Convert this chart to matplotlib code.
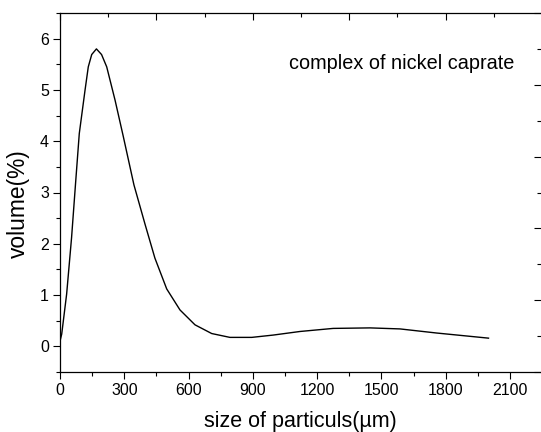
import matplotlib
matplotlib.use('Agg')
import matplotlib.pyplot as plt
from matplotlib.ticker import MultipleLocator

# particle size distribution
size_um = [0, 8, 31, 54, 73, 90, 117, 132, 148, 170, 194, 218, 257, 295, 345, 397, 443,
           498, 560, 630, 708, 793, 895, 995, 1120, 1275, 1447, 1587, 1758, 2000]
volume_pct = [0.1, 0.24, 1.02, 2.12, 3.2, 4.15, 5.0, 5.45, 5.69, 5.8, 5.69, 5.45, 4.8,
              4.1, 3.15, 2.38, 1.72, 1.12, 0.71, 0.42, 0.25, 0.175, 0.175, 0.22, 0.29,
              0.35, 0.36, 0.34, 0.26, 0.16]
label_text = "complex of nickel caprate"

plt.rcParams['font.family'] = ['Liberation Sans', 'DejaVu Sans']

fig = plt.figure(figsize=(5.41, 4.32), dpi=100)
ax = fig.add_axes([60/541, 60/432, 481/541, 359/432])

ax.plot(size_um, volume_pct, color='black', lw=1.0)

ax.set_xlim(0, 2245)
ax.set_ylim(-0.5, 6.5)

ax.xaxis.set_major_locator(MultipleLocator(300))
ax.xaxis.set_minor_locator(MultipleLocator(150))
ax.yaxis.set_major_locator(MultipleLocator(1))
ax.yaxis.set_minor_locator(MultipleLocator(0.5))
ax.tick_params(which='both', direction='out', labelsize=11.5, width=0.8, pad=3)
ax.tick_params(which='major', length=5)
ax.tick_params(which='minor', length=3)
ax.spines['right'].set_visible(False)
for s in ['left', 'bottom', 'top']:
    ax.spines[s].set_linewidth(0.9)

ax.set_xlabel("size of particuls(µm)", fontsize=15.5, labelpad=9)
ax.set_ylabel("volume(%)", fontsize=16.4)
ax.yaxis.set_label_coords(-0.062, 0.468)

# top and right axes: inward ticks only
ax_top = ax.twiny()
ax_top.set_xlim(0, 2245)
ax_top.xaxis.set_major_locator(MultipleLocator(450))
ax_top.xaxis.set_minor_locator(MultipleLocator(225))
ax_top.tick_params(which='both', direction='in', labeltop=False, width=0.8)
ax_top.tick_params(which='major', length=5)
ax_top.tick_params(which='minor', length=3)

ax_right = ax.twinx()
ax_right.set_ylim(0, 10)
ax_right.yaxis.set_major_locator(MultipleLocator(2))
ax_right.yaxis.set_minor_locator(MultipleLocator(1))
ax_right.tick_params(which='both', direction='in', labelright=False, width=0.8)
ax_right.tick_params(which='major', length=5)
ax_right.tick_params(which='minor', length=3)

for a in [ax_top, ax_right]:
    for s in a.spines.values():
        s.set_visible(False)

ax.text(1069, 5.52, label_text, fontsize=14.3, ha='left', va='center')

fig.savefig("out.png", dpi=100)
